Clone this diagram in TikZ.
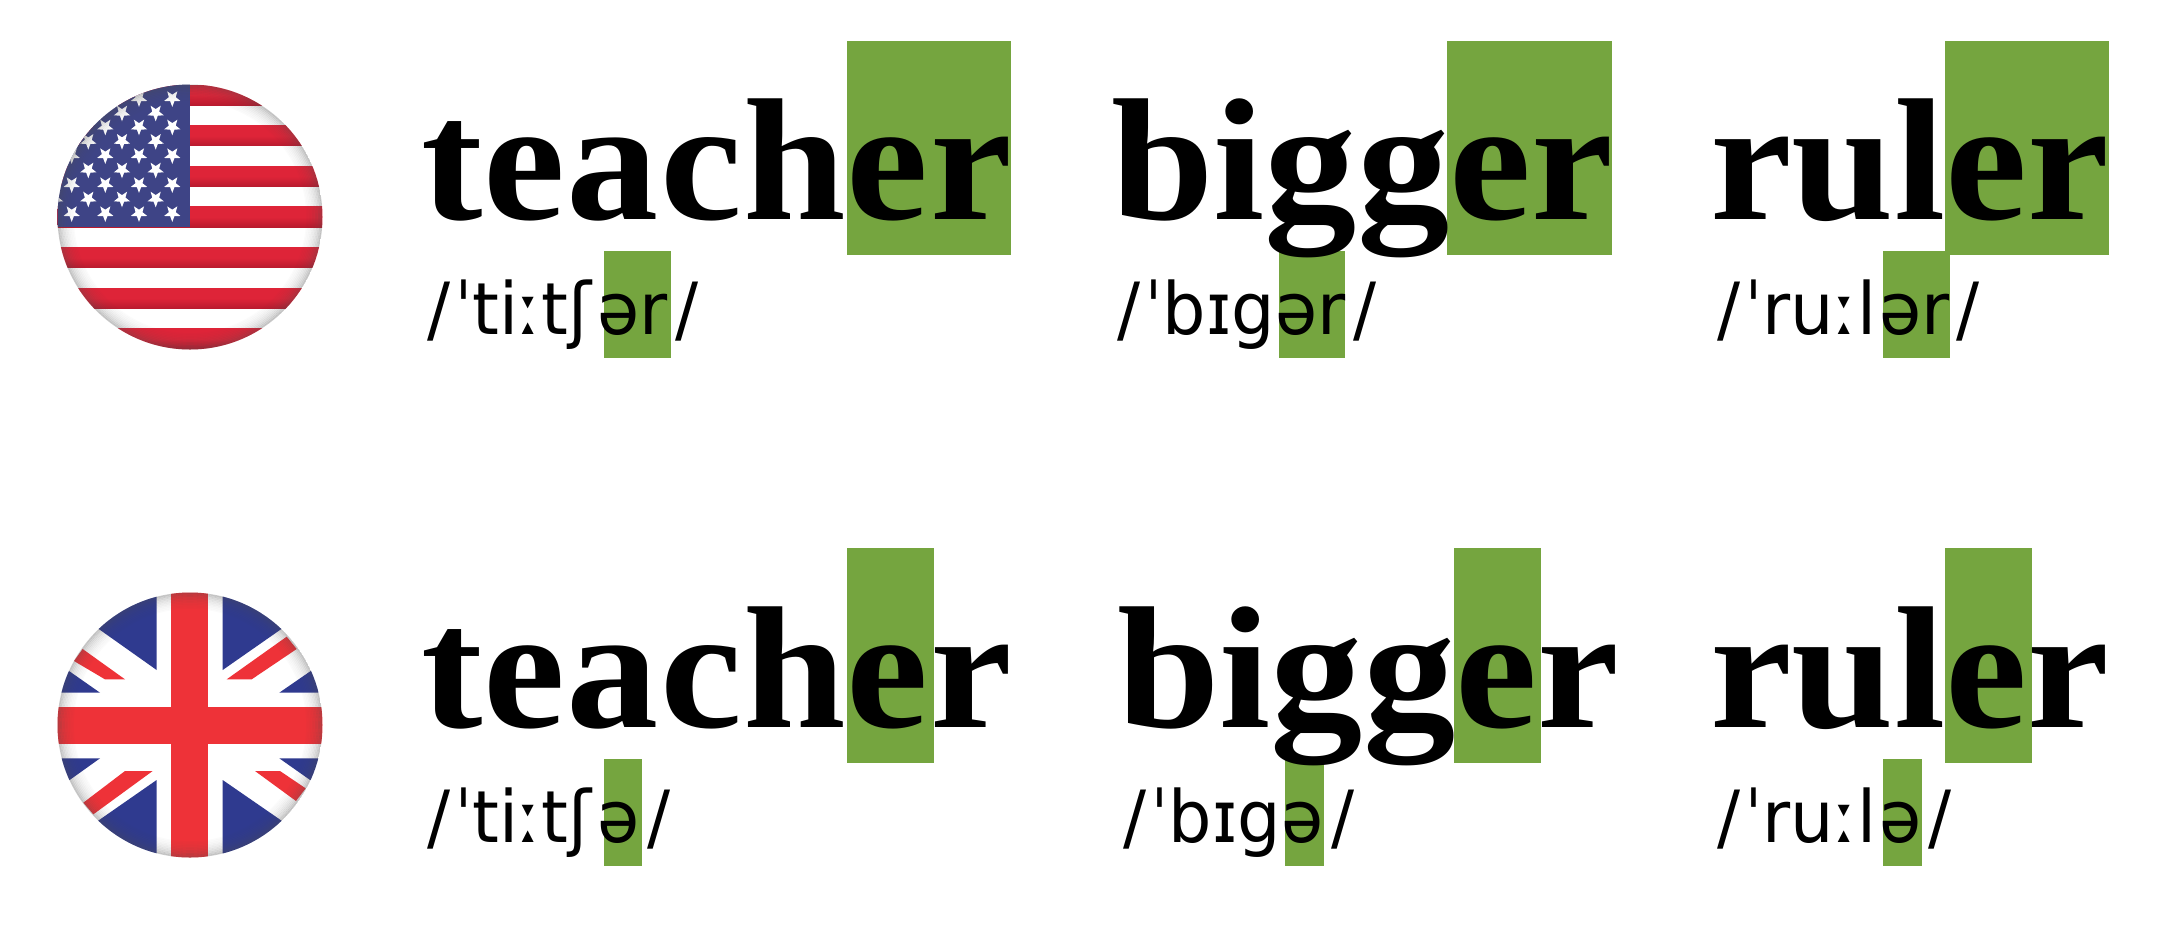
\documentclass[tikz,border=0pt]{standalone}
\usepackage{fontspec}
\setmainfont{Liberation Serif}
\newfontfamily\wordfont[FakeStretch=1.06]{Liberation Serif}
\newfontfamily\ipafont[FakeStretch=0.95]{DejaVu Sans}
\definecolor{hl}{RGB}{117,165,63}
\definecolor{usred}{RGB}{222,36,56}
\definecolor{usreddk}{RGB}{184,26,46}
\definecolor{usblue}{RGB}{62,68,134}
\definecolor{ukred}{RGB}{238,50,56}
\definecolor{ukblue}{RGB}{47,58,143}
\tikzset{
  word/.style={inner sep=0pt,outer sep=0pt,anchor=base west,font=\fontsize{174}{174}\selectfont\wordfont\bfseries,text=black},
  ipa/.style={inner sep=0pt,outer sep=0pt,anchor=base west,font=\fontsize{72}{72}\selectfont\ipafont,text=black},
  hlbox/.style={fill=hl,draw=none},
  usstar/.style={fill=white,draw=none},
}
\newcommand{\sheen}[2]{%
  \foreach \r/\o in {132/.30,130.5/.25,129/.20,127.5/.16,126/.13,124.5/.10,123/.08,121.5/.06,120/.04,118.5/.03,117/.02}{
    \draw[black!70,opacity=\o,line width=1.6pt] (#1,#2) circle[radius=\r];
  }%
}
\newcommand{\onestar}[2]{%
  \fill[usstar,shift={(#1,#2)},x=8.6pt,y=-8.6pt] (90:1)--(54:.42)--(18:1)--(-18:.42)--(-54:1)--(-90:.42)--(-126:1)--(-162:.42)--(162:1)--(126:.42)--cycle;
}
\newcommand{\ks}{\kern4pt}
\newcommand{\lk}{\kern1.2pt}
\begin{document}
\begin{tikzpicture}[x=1pt,y=-1pt]
\useasboundingbox (0,0) rectangle (2178,932);
\fill[white] (0,0) rectangle (2178,932);

% ---------- US flag
\begin{scope}
  \clip (190,217) circle[radius=132.5];
  \fill[white] (50,80) rectangle (330,355);
  \foreach \i in {0,2,...,12}{
    \shade[top color=usred,bottom color=usreddk,middle color=usred]
      (50,{85+20.33*\i}) rectangle (330,{85+20.33*(\i+1)});
  }
  \fill[usblue] (50,80) rectangle (189.5,227.3);
  \foreach \x/\y in {
    139/98.3,172.3/98.3,
    122/112.7,155.7/112.7,
    105.3/126.7,139/126.7,172.3/126.7,
    88.3/141,122/141,155.7/141,
    71.7/155.3,105.3/155.3,139/155.3,172.3/155.3,
    88.3/169.7,122/169.7,155.7/169.7,
    71.7/184.3,105.3/184.3,139/184.3,172.3/184.3,
    55/198.7,88.3/198.7,122/198.7,155.7/198.7,
    71.7/213.3,105.3/213.3,139/213.3,172.3/213.3}{
    \onestar{\x}{\y}
  }
  \sheen{190}{217}
\end{scope}

% ---------- UK flag
\begin{scope}
  \clip (190,725) circle[radius=132.5];
  \fill[white] (50,585) rectangle (330,865);
  \begin{scope}[shift={(40,580)},x=0.33333pt,y=-0.33333pt]
    \fill[ukblue] (350,270)--(350,20)--(100,20)--(100,93)--cycle;
    \fill[ukblue] (548,270)--(548,20)--(800,20)--(800,94)--cycle;
    \fill[ukblue] (350,600)--(350,860)--(100,860)--(100,774)--cycle;
    \fill[ukblue] (548,600)--(548,860)--(800,860)--(800,774)--cycle;
    \fill[ukblue] (180,338)--(40,240)--(40,338)--cycle;
    \fill[ukblue] (718,338)--(860,240)--(860,338)--cycle;
    \fill[ukblue] (180,535)--(40,635)--(40,535)--cycle;
    \fill[ukblue] (718,535)--(860,635)--(860,535)--cycle;
    \fill[ukred] (128,207)--(255,298)--(195,298)--(102,243)--cycle;
    \fill[ukred] (740,170)--(770,207)--(635,298)--(560,298)--cycle;
    \fill[ukred] (255,573)--(338,573)--(160,703)--(130,668)--cycle;
    \fill[ukred] (645,573)--(720,573)--(797,625)--(768,663)--cycle;
    \fill[ukred] (392,20) rectangle (505,860);
    \fill[ukred] (40,380) rectangle (860,492);
  \end{scope}
  \sheen{190}{725}
\end{scope}

% ---------- highlight boxes, top row
\fill[hlbox] (847,41) rectangle (1011,255);
\fill[hlbox] (1447,41) rectangle (1612,255);
\fill[hlbox] (1945,41) rectangle (2109,255);
\fill[hlbox] (604,251) rectangle (671,358);
\fill[hlbox] (1279,251) rectangle (1345,358);
\fill[hlbox] (1883,251) rectangle (1950,358);
% ---------- highlight boxes, bottom row
\fill[hlbox] (847,548) rectangle (934,763);
\fill[hlbox] (1454,548) rectangle (1541,763);
\fill[hlbox] (1945,548) rectangle (2032,763);
\fill[hlbox] (604,759) rectangle (642,866);
\fill[hlbox] (1285,759) rectangle (1324,866);
\fill[hlbox] (1883,759) rectangle (1922,866);

% ---------- words
\node[word] (usTeacher) at (421,219) {t\lk e\lk a\lk c\lk h\lk e\lk r};
\node[word] (usBigger) at (1111,219) {bigger};
\node[word] (usRuler) at (1710,219) {ruler};
\node[word] (ukTeacher) at (421,727) {t\lk e\lk a\lk c\lk h\lk e\lk r};
\node[word] (ukBigger) at (1117,727) {bigger};
\node[word] (ukRuler) at (1710,727) {ruler};

% ---------- transcriptions
\node[ipa] (usTeacherIpa) at (427,334) {/\ks ˈtiːtʃ\kern6pt ər\kern8pt /};
\node[ipa] (usBiggerIpa) at (1117,334) {/\ks ˈbɪgər\kern8pt /};
\node[ipa] (usRulerIpa) at (1717,334) {/\ks ˈruːl\kern3pt ər\kern7pt /};
\node[ipa] (ukTeacherIpa) at (427,842) {/\ks ˈtiːtʃ\kern6pt ə\kern8pt /};
\node[ipa] (ukBiggerIpa) at (1123,842) {/\ks ˈbɪgə\kern8pt /};
\node[ipa] (ukRulerIpa) at (1717,842) {/\ks ˈruːl\kern3pt ə\kern7pt /};
\end{tikzpicture}
\end{document}
